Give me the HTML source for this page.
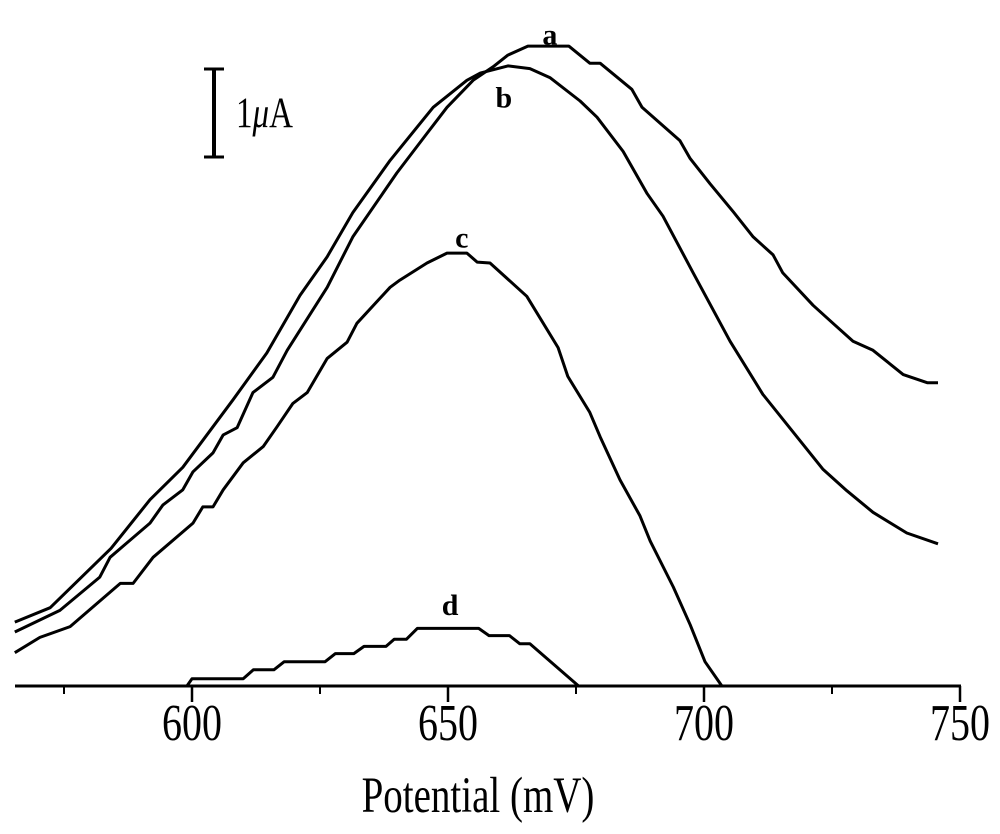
<!DOCTYPE html>
<html><head><meta charset="utf-8"><style>
html,body{margin:0;padding:0;background:#fff}
svg{display:block;font-family:"Liberation Serif",serif}
</style></head><body>
<svg id="chart" width="1000" height="834" viewBox="0 0 1000 834">
<g id="axis"></g>
<g id="series"></g>
<g>
<line x1="214" y1="68" x2="214" y2="158" stroke="#000" stroke-width="4"/>
<line x1="204" y1="69" x2="224" y2="69" stroke="#000" stroke-width="3"/>
<line x1="204" y1="157" x2="224" y2="157" stroke="#000" stroke-width="3"/>
<text transform="translate(236,127) scale(1,1.3)" font-size="33">1<tspan font-style="italic">μ</tspan>A</text>
</g>
<text transform="translate(478,812) scale(1,1.3)" font-size="39" text-anchor="middle">Potential (mV)</text>
</svg>
<script>
const ticks=[600,650,700,750];
const minorTicks=[575,625,675,725];
const aX=[565.4,574.2,582.0,584.0,591.8,594.3,598.2,600.2,604.1,606.1,608.8,611.9,615.8,618.6,626.4,631.4,640.0,645.9,649.8,654.9,658.8,661.7,665.6,673.6,677.7,679.7,685.9,687.9,695.3,697.3,701.2,705.7,709.6,713.5,715.4,721.3,725.2,729.1,733.0,738.9,743.6,745.7];
const aY=[0.60,0.84,1.21,1.43,1.81,2.01,2.18,2.38,2.59,2.79,2.87,3.26,3.43,3.73,4.43,4.99,5.70,6.14,6.43,6.73,6.88,7.01,7.11,7.11,6.92,6.92,6.63,6.43,6.06,5.86,5.58,5.27,4.99,4.79,4.59,4.23,4.03,3.83,3.73,3.46,3.37,3.37];
const bX=[565.4,572.3,584.2,591.8,598.2,608.0,614.6,621.1,626.4,631.4,638.7,647.1,653.7,656.3,661.7,666.0,669.9,675.8,679.1,684.2,688.9,692.0,697.9,705.1,711.5,723.2,727.9,733.0,739.6,745.7];
const bY=[0.71,0.87,1.53,2.07,2.43,3.18,3.70,4.34,4.77,5.26,5.84,6.43,6.73,6.81,6.89,6.86,6.76,6.50,6.32,5.94,5.47,5.22,4.59,3.83,3.24,2.41,2.17,1.93,1.70,1.58];
const cX=[565.4,570.3,576.2,586.0,588.5,592.4,600.2,602.1,604.1,606.1,610.0,613.9,616.6,619.7,622.5,626.4,630.3,632.2,638.7,640.6,645.9,649.8,653.7,655.7,658.2,665.4,671.5,673.4,677.7,679.7,683.6,687.5,689.5,694.0,697.3,700.2,703.5];
const cY=[0.37,0.54,0.66,1.14,1.14,1.43,1.81,1.99,1.99,2.18,2.48,2.66,2.88,3.14,3.26,3.64,3.82,4.03,4.43,4.51,4.70,4.81,4.81,4.71,4.70,4.33,3.76,3.44,3.04,2.77,2.29,1.89,1.61,1.10,0.68,0.27,0];
const dX=[599,600,610,612,616,618,626,628,631.6,633.6,637.9,639.5,641.9,644,656,658,662,664,666,675.5];
const dY=[0,0.08,0.08,0.18,0.18,0.27,0.27,0.36,0.36,0.44,0.44,0.52,0.52,0.64,0.64,0.56,0.56,0.47,0.47,0];
const labels=["a","b","c","d"];
const labelX=[669.9,660.9,652.7,650.4];
const labelY=[7.13,6.43,4.87,0.79];
const NS="http://www.w3.org/2000/svg";
const xs=v=>192+(v-600)*5.12;
const ys=v=>686-v*90;
const axis=document.getElementById('axis');
function mk(tag,attrs,parent){const e=document.createElementNS(NS,tag);for(const k in attrs)e.setAttribute(k,attrs[k]);parent.appendChild(e);return e;}
const base=mk('line',{x1:15,y1:686,x2:961,y2:686,stroke:'#000','stroke-width':3},axis);


ticks.forEach(t=>{
 const l=mk('line',{x1:xs(t),y1:686,x2:xs(t),y2:702,stroke:'#000','stroke-width':2.5},axis);
 
 
 const tx=mk('text',{transform:'translate('+xs(t)+',740) scale(1,1.3)','font-size':40,'text-anchor':'middle'},axis);
 tx.textContent=t;
 
 
});
minorTicks.forEach(t=>{
 const l=mk('line',{x1:xs(t),y1:686,x2:xs(t),y2:694,stroke:'#000','stroke-width':2},axis);
 
 
});
const ser=document.getElementById('series');
[[aX,aY],[bX,bY],[cX,cY],[dX,dY]].forEach((s,i)=>{
 const d=s[0].map((x,j)=>(j?'L':'M')+xs(x).toFixed(1)+','+ys(s[1][j]).toFixed(1)).join(' ');
 const p=mk('path',{d:d,fill:'none',stroke:'#000','stroke-width':3,'stroke-linejoin':'round'},ser);
 
 
 const t=mk('text',{x:xs(labelX[i]),y:ys(labelY[i]),'font-size':30,'font-weight':'bold','text-anchor':'middle'},ser);
 t.textContent=labels[i];
 
 
});
</script>
</body></html>
